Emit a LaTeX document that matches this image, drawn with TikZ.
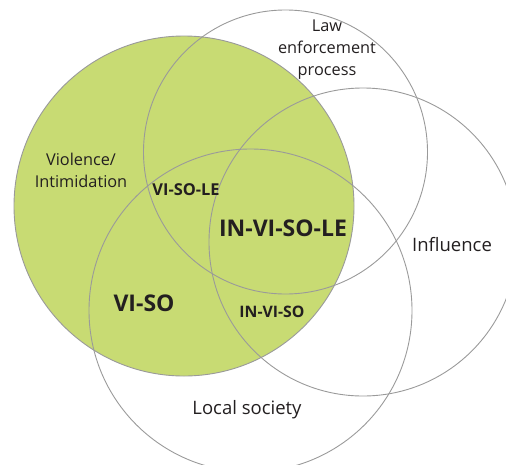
\documentclass[tikz,border=0pt]{standalone}
\usepackage{fontspec}
\setmainfont{Open Sans}
\definecolor{vigreen}{HTML}{C8DB73}
\definecolor{ringgray}{HTML}{9A9A9A}
\definecolor{txt}{HTML}{231F20}
\tikzset{
  ring/.style={circle, draw=ringgray, line width=0.9pt, inner sep=0pt, minimum size=#1},
  lbl/.style={text=txt, align=center, inner sep=0pt, font=\fontsize{#1}{22}\selectfont},
  blbl/.style={text=txt, align=center, inner sep=0pt, font=\fontsize{#1}{22}\selectfont\bfseries},
}
\begin{document}
\begin{tikzpicture}[x=1pt,y=-1pt]
\useasboundingbox (0,0) rectangle (506,464);
\clip (0,0) rectangle (506,464);
\node[ring=340pt, fill=vigreen] (vi) at (184,206) {};
\node[ring=284pt] (le) at (285.5,152) {};
\node[ring=308pt] (in) at (363,242) {};
\node[ring=323pt] (so) at (250.5,310.5) {};
\node[lbl=16.3] (tle) at (327,49.5) {Law\\enforcement\\process};
\node[lbl=16.3] (tvi) at (81,170.5) {Violence/\\Intimidation};
\node[lbl=18.5] (tin) at (452,245) {Influence};
\node[lbl=18.5] (tso) at (247,410) {Local society};
\node[blbl=16.4] (visole) at (186,190) {VI-SO-LE};
\node[blbl=23] (invisole) at (283,228) {IN-VI-SO-LE};
\node[blbl=23] (viso) at (144,303) {VI-SO};
\node[blbl=15.8] (inviso) at (272,312) {IN-VI-SO};
\end{tikzpicture}
\end{document}
